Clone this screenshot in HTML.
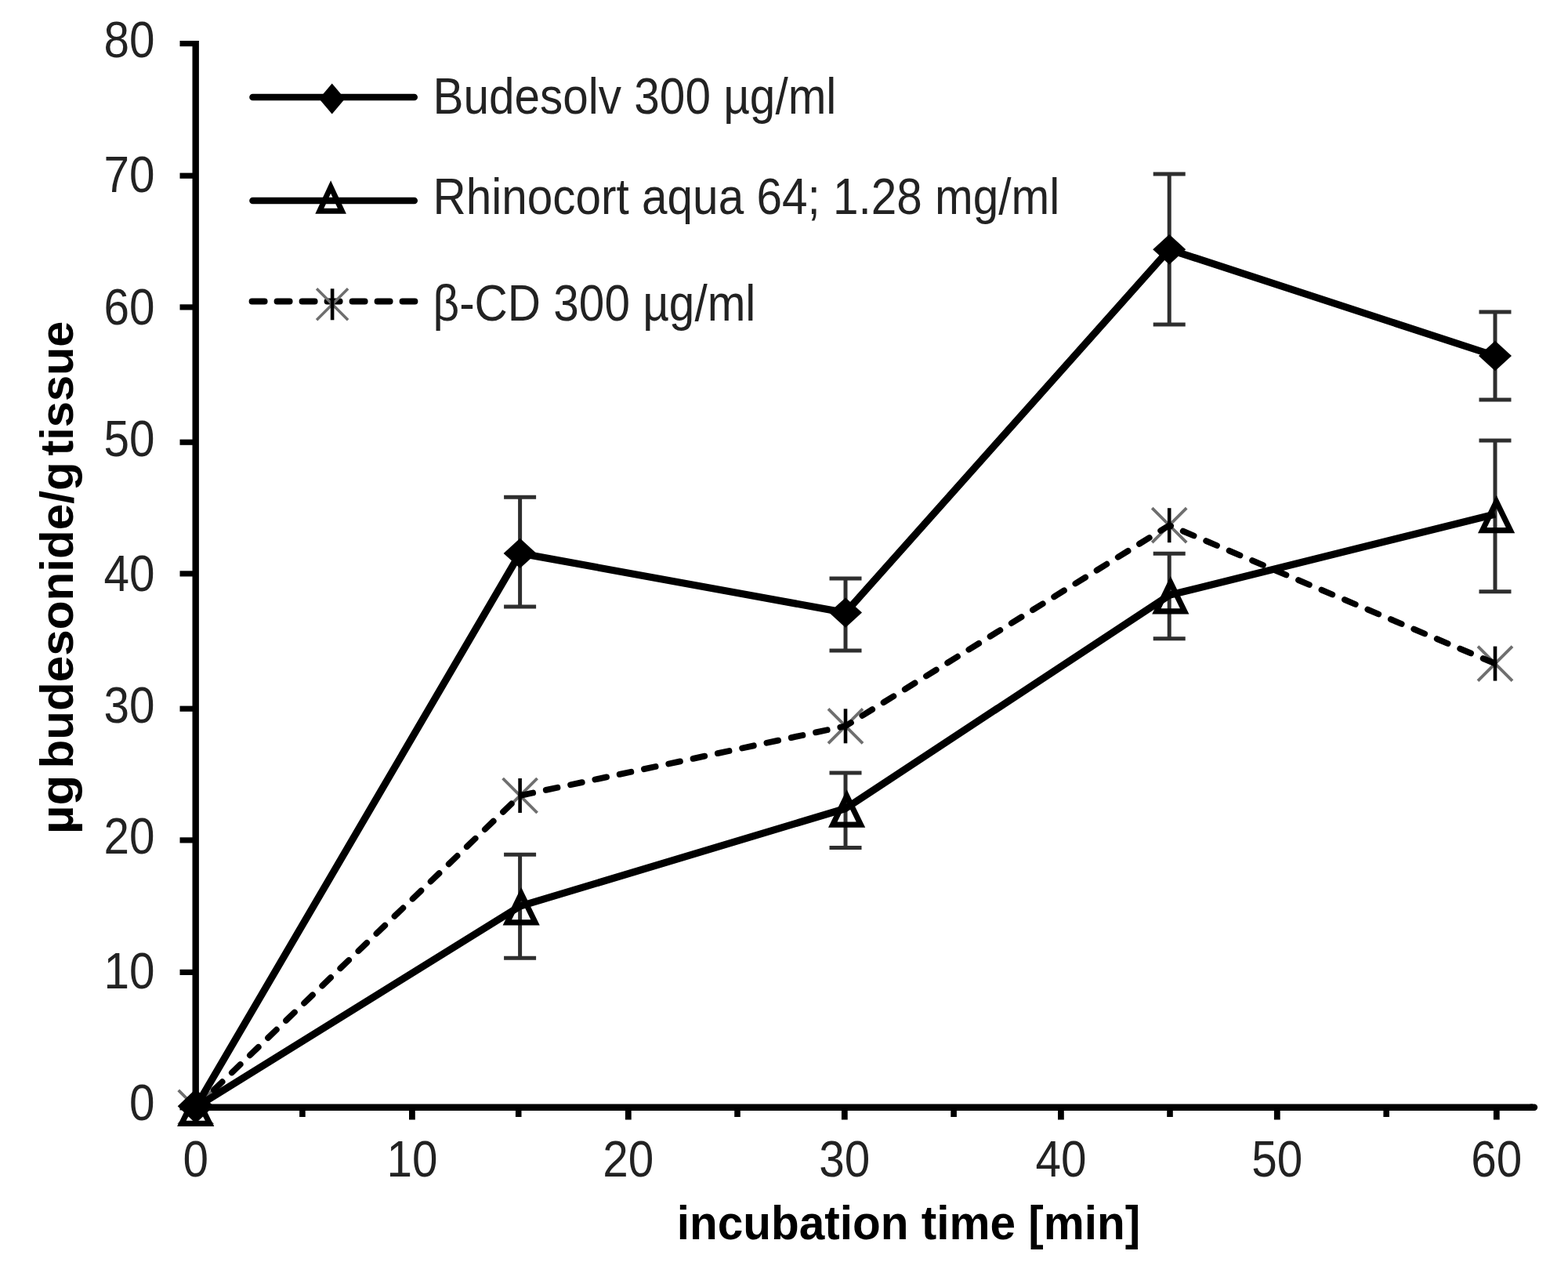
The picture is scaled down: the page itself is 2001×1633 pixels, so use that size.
<!DOCTYPE html><html><head><meta charset="utf-8"><title>Budesonide tissue uptake</title><style>html,body{margin:0;padding:0;background:#fff;overflow:hidden}svg{display:block}</style></head><body>
<svg width="2001" height="1633" viewBox="0 0 2001 1633">
<rect width="2001" height="1633" fill="#fff"/>
<g stroke="#000" fill="none">
<path d="M249.7 52.1 V1412.8" stroke-width="8.4"/>
<path d="M245.5 1412.8 H1956" stroke-width="8.4"/>
<path d="M1954 1412.8 H1958" stroke-width="8.4" stroke-linecap="round"/>
<path d="M229.5 55.6 H249.7" stroke-width="7.2"/>
<path d="M229.5 224.2 H249.7" stroke-width="7.2"/>
<path d="M229.5 391.9 H249.7" stroke-width="7.2"/>
<path d="M229.5 564.2 H249.7" stroke-width="7.2"/>
<path d="M229.5 731.9 H249.7" stroke-width="7.2"/>
<path d="M229.5 904.2 H249.7" stroke-width="7.2"/>
<path d="M229.5 1071.9 H249.7" stroke-width="7.2"/>
<path d="M229.5 1240.4 H249.7" stroke-width="7.2"/>
<path d="M229.5 1412.8 H249.7" stroke-width="7.2"/>
<path d="M249.7 1412.8 V1428.5" stroke-width="7.8"/>
<path d="M525.9 1412.8 V1428.5" stroke-width="7.8"/>
<path d="M801.8 1412.8 V1428.5" stroke-width="7.8"/>
<path d="M1077.8 1412.8 V1428.5" stroke-width="7.8"/>
<path d="M1353.9 1412.8 V1428.5" stroke-width="7.8"/>
<path d="M1629.8 1412.8 V1428.5" stroke-width="7.8"/>
<path d="M1909.8 1412.8 V1428.5" stroke-width="7.8"/>
<path d="M385.9 1412.8 V1425" stroke-width="7.6"/>
<path d="M661.7 1412.8 V1425" stroke-width="7.6"/>
<path d="M941.0 1412.8 V1425" stroke-width="7.6"/>
<path d="M1217.1 1412.8 V1425" stroke-width="7.6"/>
<path d="M1493.0 1412.8 V1425" stroke-width="7.6"/>
<path d="M1769.2 1412.8 V1425" stroke-width="7.6"/>
</g>
<g font-family="Liberation Sans, Arial, Helvetica, sans-serif" font-size="58.5" fill="#222">
<text transform="translate(197.5 72.6) scale(1 1.12)" text-anchor="end">80</text>
<text transform="translate(197.5 244.8) scale(1 1.12)" text-anchor="end">70</text>
<text transform="translate(197.5 413.5) scale(1 1.12)" text-anchor="end">60</text>
<text transform="translate(197.5 582.3) scale(1 1.12)" text-anchor="end">50</text>
<text transform="translate(197.5 753.8) scale(1 1.12)" text-anchor="end">40</text>
<text transform="translate(197.5 921.7) scale(1 1.12)" text-anchor="end">30</text>
<text transform="translate(197.5 1088.8) scale(1 1.12)" text-anchor="end">20</text>
<text transform="translate(197.5 1260.6) scale(1 1.12)" text-anchor="end">10</text>
<text transform="translate(197.5 1428.7) scale(1 1.12)" text-anchor="end">0</text>
<text transform="translate(249.7 1500.5) scale(1 1.12)" text-anchor="middle">0</text>
<text transform="translate(525.9 1500.5) scale(1 1.12)" text-anchor="middle">10</text>
<text transform="translate(801.8 1500.5) scale(1 1.12)" text-anchor="middle">20</text>
<text transform="translate(1077.8 1500.5) scale(1 1.12)" text-anchor="middle">30</text>
<text transform="translate(1353.9 1500.5) scale(1 1.12)" text-anchor="middle">40</text>
<text transform="translate(1629.8 1500.5) scale(1 1.12)" text-anchor="middle">50</text>
<text transform="translate(1909.8 1500.5) scale(1 1.12)" text-anchor="middle">60</text>
</g>
<text transform="translate(1159.5 1581.3) scale(1 1.05)" text-anchor="middle" font-family="Liberation Sans, Arial, Helvetica, sans-serif" font-weight="bold" font-size="58.5" fill="#000">incubation time [min]</text>
<text transform="translate(92.5 1064.3) rotate(-90) scale(1.09 1)" font-family="Liberation Sans, Arial, Helvetica, sans-serif" font-weight="bold" font-size="58.5" fill="#000">µg</text>
<text transform="translate(92.5 980.5) rotate(-90) scale(1.029 1)" font-family="Liberation Sans, Arial, Helvetica, sans-serif" font-weight="bold" font-size="58.5" fill="#000">budesonide/g</text>
<text transform="translate(92.5 581.5) rotate(-90) scale(1.017 1)" font-family="Liberation Sans, Arial, Helvetica, sans-serif" font-weight="bold" font-size="58.5" fill="#000">tissue</text>
<g stroke="#2e2e2e" stroke-width="5" fill="none">
<path d="M663.6 634.3 V773.9 M643.1 634.3 H684.1 M643.1 773.9 H684.1"/>
<path d="M1079.0 738.1 V830.0 M1058.5 738.1 H1099.5 M1058.5 830.0 H1099.5"/>
<path d="M1492.2 221.9 V414.0 M1471.7 221.9 H1512.7 M1471.7 414.0 H1512.7"/>
<path d="M1908.0 397.9 V510.0 M1887.5 397.9 H1928.5 M1887.5 510.0 H1928.5"/>
<path d="M663.6 1090.2 V1222.2 M643.1 1090.2 H684.1 M643.1 1222.2 H684.1"/>
<path d="M1079.0 986.0 V1081.6 M1058.5 986.0 H1099.5 M1058.5 1081.6 H1099.5"/>
<path d="M1492.2 706.2 V814.7 M1471.7 706.2 H1512.7 M1471.7 814.7 H1512.7"/>
<path d="M1908.0 562.0 V754.7 M1887.5 562.0 H1928.5 M1887.5 754.7 H1928.5"/>
</g>
<path d="M227.7 1390.8 L271.7 1434.8 M271.7 1390.8 L227.7 1434.8" stroke="#6e6e6e" stroke-width="3.8" fill="none"/><path d="M249.7 1390.8 V1434.8" stroke="#000" stroke-width="4.6" fill="none"/>
<path d="M641.6 993.0 L685.6 1037.0 M685.6 993.0 L641.6 1037.0" stroke="#6e6e6e" stroke-width="3.8" fill="none"/><path d="M663.6 993.0 V1037.0" stroke="#000" stroke-width="4.6" fill="none"/>
<path d="M1057.0 904.3 L1101.0 948.3 M1101.0 904.3 L1057.0 948.3" stroke="#6e6e6e" stroke-width="3.8" fill="none"/><path d="M1079.0 904.3 V948.3" stroke="#000" stroke-width="4.6" fill="none"/>
<path d="M1470.2 648.2 L1514.2 692.2 M1514.2 648.2 L1470.2 692.2" stroke="#6e6e6e" stroke-width="3.8" fill="none"/><path d="M1492.2 648.2 V692.2" stroke="#000" stroke-width="4.6" fill="none"/>
<path d="M1886.0 824.6 L1930.0 868.6 M1930.0 824.6 L1886.0 868.6" stroke="#6e6e6e" stroke-width="3.8" fill="none"/><path d="M1908.0 824.6 V868.6" stroke="#000" stroke-width="4.6" fill="none"/>
<polyline points="249.7,1412.8 663.6,1015.0 1079.0,926.3 1492.2,670.2 1908.0,846.6" fill="none" stroke="#000" stroke-dasharray="15 17" stroke-linecap="round" stroke-width="7.8" stroke-linejoin="round"/>
<g fill="none" stroke="#000" stroke-width="9.2" stroke-linejoin="round">
<polyline points="249.7,1412.8 663.6,1156.2 1079.0,1031.5 1492.2,759.3 1908.0,656.0"/>
<polyline points="249.7,1412.8 663.6,705.9 1079.0,781.6 1492.2,318.3 1908.0,454.0"/>
</g>
<path d="M249.7 1388.6 L273.3 1437.0 L226.1 1437.0 Z M249.7 1405.0 L237.6 1429.8 L261.8 1429.8 Z" fill="#000" fill-rule="evenodd"/>
<path d="M665.2 1132.0 L688.8 1180.4 L641.6 1180.4 Z M665.2 1148.4 L653.1 1173.2 L677.3 1173.2 Z" fill="#000" fill-rule="evenodd"/>
<path d="M1080.6 1007.3 L1104.2 1055.7 L1057.0 1055.7 Z M1080.6 1023.7 L1068.5 1048.5 L1092.7 1048.5 Z" fill="#000" fill-rule="evenodd"/>
<path d="M1493.8 735.1 L1517.4 783.5 L1470.2 783.5 Z M1493.8 751.5 L1481.7 776.3 L1505.9 776.3 Z" fill="#000" fill-rule="evenodd"/>
<path d="M1909.6 631.8 L1933.2 680.2 L1886.0 680.2 Z M1909.6 648.2 L1897.5 673.0 L1921.7 673.0 Z" fill="#000" fill-rule="evenodd"/>
<polygon points="249.7,1389.3 272.7,1411.3 249.7,1433.3 226.7,1411.3" fill="#000"/>
<polygon points="663.6,686.7 684.6,705.9 663.6,725.1 642.6,705.9" fill="#000"/>
<polygon points="1079.0,762.4 1100.0,781.6 1079.0,800.8 1058.0,781.6" fill="#000"/>
<polygon points="1492.2,299.1 1513.2,318.3 1492.2,337.5 1471.2,318.3" fill="#000"/>
<polygon points="1908.0,434.8 1929.0,454.0 1908.0,473.2 1887.0,454.0" fill="#000"/>
<g fill="none" stroke="#000" stroke-width="8.6" stroke-linecap="round">
<path d="M322.5 124 H528.7"/>
<path d="M322.5 256 H528.7"/>
<path d="M321.5 384.5 H529.5" stroke-dasharray="16.2 15.8" stroke-width="7.8"/>
</g>
<polygon points="423.7,106.5 440.2,126.0 423.7,145.5 407.2,126.0" fill="#000"/>
<path d="M422.1 230.3 L441.9 272.7 L402.3 272.7 Z M422.1 246.8 L413.3 265.7 L430.9 265.7 Z" fill="#000" fill-rule="evenodd"/>
<path d="M404.1 368.3 L444.1 408.3 M444.1 368.3 L404.1 408.3" stroke="#6e6e6e" stroke-width="3.5" fill="none"/><path d="M424.1 368.3 V408.3" stroke="#000" stroke-width="4.6" fill="none"/>
<g font-family="Liberation Sans, Arial, Helvetica, sans-serif" font-size="58.5" fill="#222">
<text transform="translate(552.5 144.5) scale(1 1.12)">Budesolv 300 µg/ml</text>
<text transform="translate(552.5 273) scale(1 1.12)">Rhinocort aqua 64; 1.28 mg/ml</text>
<text transform="translate(552.5 408.5) scale(1 1.12)">β-CD 300 µg/ml</text>
</g>
</svg></body></html>
